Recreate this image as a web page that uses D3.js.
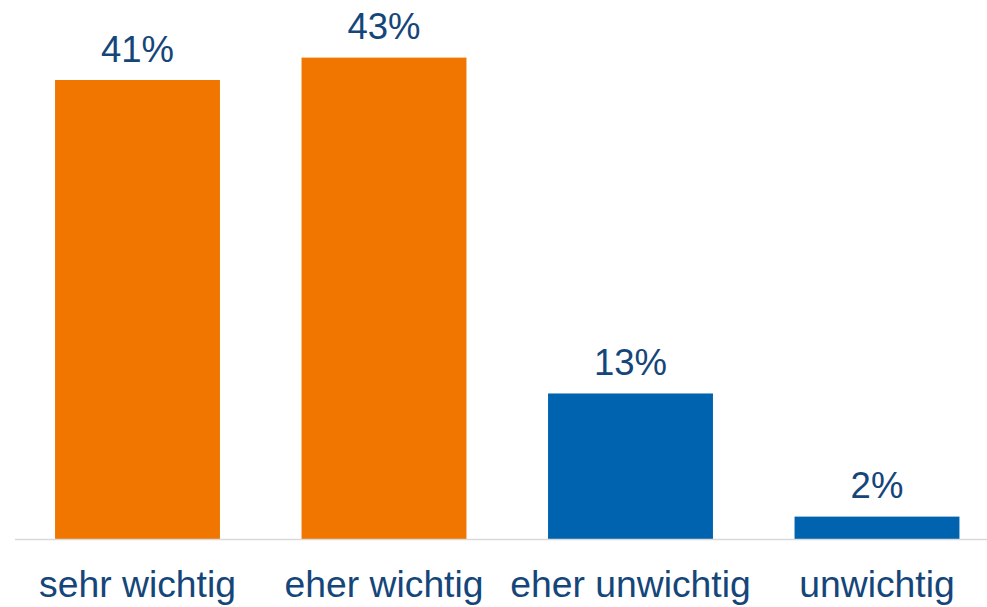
<!DOCTYPE html>
<html><head><meta charset="utf-8">
<script src="https://cdn.jsdelivr.net/npm/d3@7"></script>
<style>html,body{margin:0;padding:0;background:#fff;}svg{display:block;}</style>
</head><body>
<svg id="chart" width="987" height="607"></svg>
<script>
const categories = ["sehr wichtig", "eher wichtig", "eher unwichtig", "unwichtig"];
const values = [41, 43, 13, 2];
const valueLabels = ["41%", "43%", "13%", "2%"];
const barColors = ["#F07600", "#F07600", "#0063B0", "#0063B0"];

const svg = d3.select("#chart");
const W = 987, H = 607;
const baseY = 539;
const x = d3.scaleBand().domain(categories).range([14.25, 1000.25]).paddingInner(0.331).paddingOuter(0.1655);
const y = d3.scaleLinear().domain([0, 48]).range([baseY, baseY - 48 * 11.195]);

svg.selectAll("rect.bar").data(values).enter().append("rect")
  .attr("class", "bar")
  .attr("x", (d, i) => x(categories[i]))
  .attr("width", x.bandwidth())
  .attr("y", d => y(d))
  .attr("height", d => y(0) - y(d))
  .attr("fill", (d, i) => barColors[i]);

svg.append("line")
  .attr("x1", 15).attr("x2", W)
  .attr("y1", baseY + 0.5).attr("y2", baseY + 0.5)
  .attr("stroke", "#d9d9d9").attr("stroke-width", 1.5);

svg.selectAll("text.val").data(values).enter().append("text")
  .attr("class", "val")
  .attr("x", (d, i) => x(categories[i]) + x.bandwidth() / 2)
  .attr("y", d => y(d) - 18.5)
  .attr("text-anchor", "middle")
  .attr("font-family", "Liberation Sans, Arial, sans-serif")
  .attr("font-size", 36.5)
  .attr("fill", "#15467A")
  .text((d, i) => valueLabels[i]);

const xAxis = svg.append("g").attr("transform", `translate(0,${baseY})`)
  .call(d3.axisBottom(x).tickSize(0).tickPadding(0));
xAxis.select(".domain").remove();
xAxis.selectAll("text")
  .attr("y", 57.7).attr("dy", null)
  .attr("font-family", "Liberation Sans, Arial, sans-serif")
  .attr("font-size", 37.3)
  .attr("fill", "#15467A");
</script>
</body></html>
